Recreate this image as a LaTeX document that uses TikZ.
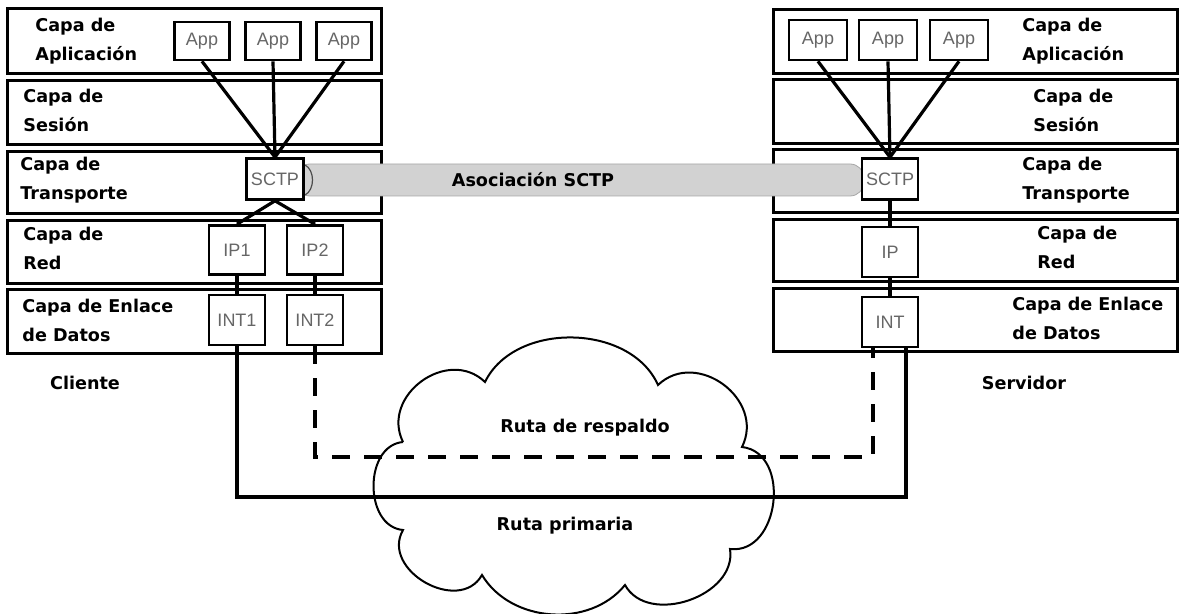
\documentclass[tikz,border=0pt]{standalone}
\usepackage{fontspec}
\setmainfont{Liberation Sans}
\newfontfamily\capafont{DejaVu Sans}

\tikzset{
  capa/.style={draw, line width=1.3pt, anchor=north west, inner sep=0pt, minimum width=187pt},
  caja/.style={draw, line width=1.3pt, fill=white, inner sep=0pt, minimum width=28pt,
    text=black!60, font=\fontsize{9}{10}\selectfont},
  rotulo/.style={anchor=west, align=left, inner sep=0pt,
    font=\capafont\bfseries\fontsize{8.8}{14.5}\selectfont},
  enlace/.style={line width=1.6pt},
}

\begin{document}
\begin{tikzpicture}[x=0.5pt, y=-0.5pt]
\useasboundingbox (0,0) rectangle (1179,614);

\node[capa, minimum height=32.5pt] (c1) at (6,7) {}; % Cliente.aplicacion
\node[capa, minimum height=32pt] (c2) at (6,79) {}; % Cliente.sesion
\node[capa, minimum height=31pt] (c3) at (6,150) {}; % Cliente.transporte
\node[capa, minimum height=31.5pt] (c4) at (6,219) {}; % Cliente.red
\node[capa, minimum height=32pt] (c5) at (6,288) {}; % Cliente.enlace
\node[capa, minimum width=202pt, minimum height=32pt] (s1) at (772,8) {}; % Servidor.aplicacion
\node[capa, minimum width=202pt, minimum height=32pt] (s2) at (772,78) {}; % Servidor.sesion
\node[capa, minimum width=202pt, minimum height=31.5pt] (s3) at (772,148) {}; % Servidor.transporte
\node[capa, minimum width=202pt, minimum height=31pt] (s4) at (772,218) {}; % Servidor.red
\node[capa, minimum width=202pt, minimum height=31.5pt] (s5) at (772,287) {}; % Servidor.enlace

\node[rectangle, rounded corners=7pt, fill=gray!35, draw=gray!70, minimum width=284pt, minimum height=16pt] (asoc) at (580,180) {}; % barra
\draw[gray!60!black, line width=0.6pt] (305,165) .. controls (315,170) and (315,190) .. (305,195) ; % barra
\node[rotulo, anchor=center] (asoclbl) at (533,180) {Asociación SCTP};

\node[rotulo] (lc1) at (35,41) {Capa de\\Aplicación};
\node[rotulo] (lc2) at (23,110) {Capa de\\Sesión};
\node[rotulo] (lc3) at (20,180) {Capa de\\Transporte};
\node[rotulo] (lc4) at (23,248) {Capa de\\Red};
\node[rotulo] (lc5) at (22,320) {Capa de Enlace\\de Datos};
\node[rotulo] (ls1) at (1022,41) {Capa de\\Aplicación};
\node[rotulo] (ls2) at (1033,110) {Capa de\\Sesión};
\node[rotulo] (ls3) at (1022,180) {Capa de\\Transporte};
\node[rotulo] (ls4) at (1037,247) {Capa de\\Red};
\node[rotulo] (ls5) at (1012,318) {Capa de Enlace\\de Datos};
\node[rotulo, anchor=center] (cli) at (85,383) {Cliente};
\node[rotulo, anchor=center] (ser) at (1024,383) {Servidor};

\node[caja, minimum width=27.5pt, minimum height=19pt] (app1) at (202,41) {App};
\node[caja, minimum width=27.5pt, minimum height=19pt] (app2) at (273,41) {App};
\node[caja, minimum width=27.5pt, minimum height=19pt] (app3) at (344,41) {App};
\node[caja, minimum width=28.5pt, minimum height=20.5pt] (sctp) at (275,179) {SCTP};
\node[caja, minimum height=24.5pt] (ip1) at (237,250) {IP1};
\node[caja, minimum height=24.5pt] (ip2) at (315,250) {IP2};
\node[caja, minimum height=25pt] (int1) at (237,320) {INT1};
\node[caja, minimum height=25pt] (int2) at (315,320) {INT2};
\node[caja, minimum width=29pt, minimum height=20pt] (apps1) at (818,40) {App};
\node[caja, minimum width=29pt, minimum height=20pt] (apps2) at (888,40) {App};
\node[caja, minimum width=29pt, minimum height=20pt] (apps3) at (959,40) {App};
\node[caja, minimum height=20.5pt] (sctps) at (890,179) {SCTP};
\node[caja, minimum height=25pt] (ips) at (890,252) {IP};
\node[caja, minimum height=25pt] (ints) at (890,322) {INT};

\draw[enlace] (app1.south) -- (sctp.north) ;
\draw[enlace] (app2.south) -- (sctp.north) ;
\draw[enlace] (app3.south) -- (sctp.north) ;
\draw[enlace] (sctp.south) -- (ip1.north) ;
\draw[enlace] (sctp.south) -- (ip2.north) ;
\draw[enlace] (ip1.south) -- (int1.north) ;
\draw[enlace] (ip2.south) -- (int2.north) ;
\draw[enlace] (apps1.south) -- (sctps.north) ;
\draw[enlace] (apps2.south) -- (sctps.north) ;
\draw[enlace] (apps3.south) -- (sctps.north) ;
\draw[enlace] (sctps.south) -- (ips.north) ;
\draw[enlace] (ips.south) -- (ints.north) ;

% nube
\draw[line width=1pt] (403,442) to[bend left=80, looseness=1.3] (485,382)
  to[bend left=65] (658,385) to[bend left=80, looseness=1.3] (742,447)
  to[bend left=90, looseness=1.25] (730,549) to[bend left=80, looseness=1.1] (625,585)
  to[bend left=55] (482,575) to[bend left=90, looseness=1.3] (403,530)
  to[bend left=85, looseness=1.15] (403,442) ;
\coordinate (primaria) at (575,497);
\coordinate (respaldo) at (575,457);
\draw[enlace] (int1.south) |- (primaria) -| ([xshift=8pt]ints.south) ; % Ruta primaria
\draw[enlace, dash pattern=on 9pt off 7pt] (int2.south) |- (respaldo) -| ([xshift=-8.5pt]ints.south) ; % Ruta de respaldo
\node[rotulo, anchor=center] (lresp) at (585,428) {Ruta de respaldo};
\node[rotulo, anchor=center] (lprim) at (565,526) {Ruta primaria};

\end{tikzpicture}
\end{document}
